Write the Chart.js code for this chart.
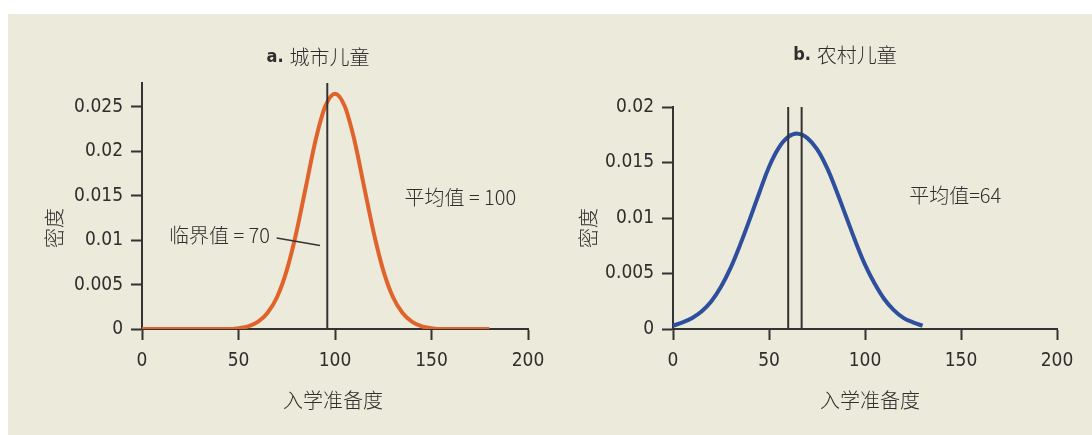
<!DOCTYPE html>
<html>
<head>
<meta charset="utf-8">
<script src="https://cdn.jsdelivr.net/npm/chart.js@4.4.0/dist/chart.umd.min.js"></script>
<style>
  html, body { margin: 0; padding: 0; background: #fff; }
  #wrap { position: relative; width: 1092px; height: 435px; overflow: hidden; }
  #panel { position: absolute; left: 8px; top: 14px; right: 0; bottom: 0; background: #eceada; }
  canvas { position: absolute; top: 0; }
  #chartA { left: 0; }
  #chartB { left: 546px; }
</style>
</head>
<body>
<div id="wrap">
  <div id="panel"></div>
  <canvas id="chartA" width="580" height="435"></canvas>
  <canvas id="chartB" width="546" height="435"></canvas>
</div>
<script>
// tick values and labels
const xTicks = [0, 50, 100, 150, 200];
const xLabels = ["0", "50", "100", "150", "200"];
const yTicksA = [0, 0.005, 0.01, 0.015, 0.02, 0.025];
const yLabelsA = ["0", "0.005", "0.01", "0.015", "0.02", "0.025"];
const yTicksB = [0, 0.005, 0.01, 0.015, 0.02];
const yLabelsB = ["0", "0.005", "0.01", "0.015", "0.02"];

// a. urban children, density
const urbanX = [0, 5, 10, 15, 20, 25, 30, 35, 40, 45, 50, 55, 60, 65, 70, 75, 80, 85, 90,
  95, 100, 105, 110, 115, 120, 125, 130, 135, 140, 145, 150, 155, 160, 165, 170, 175, 180];
const urbanDensity = [0, 0, 0, 0, 0, 0, 0, 0, 0, 0, 0.0001, 0.0003, 0.0008, 0.0018, 0.0036,
  0.0066, 0.0109, 0.0161, 0.0213, 0.0251, 0.0265, 0.0251, 0.0213, 0.0161, 0.0109, 0.0066,
  0.0036, 0.0018, 0.0008, 0.0003, 0.0001, 0, 0, 0, 0, 0, 0];
const urbanLines = [96];
const urbanYMax = 0.0277;

// b. rural children
const ruralX = [0, 5, 10, 15, 20, 25, 30, 35, 40, 45, 50, 55, 60, 65, 70, 75, 80, 85, 90,
  95, 100, 105, 110, 115, 120, 125, 130];
const ruralDensity = [0.0003, 0.0006, 0.0010, 0.0016, 0.0025, 0.0038, 0.0055, 0.0076, 0.0099,
  0.0123, 0.0146, 0.0163, 0.0173, 0.0176, 0.0172, 0.0162, 0.0146, 0.0125, 0.0102, 0.0079,
  0.0058, 0.0041, 0.0027, 0.0017, 0.0010, 0.0006, 0.0003];
const ruralLines = [60, 67];
const ruralYMax = 0.02;

const AXIS = "#333333";
const TEXT = "#2e2e2e";
const NUM_FONT = '"Liberation Sans Narrow", "DejaVu Sans Condensed", sans-serif';
const MIX_FONT = '"Liberation Sans Narrow", "Noto Sans CJK SC", sans-serif';

Chart.defaults.font.family = NUM_FONT;
Chart.defaults.font.size = 19;
Chart.defaults.color = TEXT;

// titles, axis titles and notes
const textPlugin = {
  id: "panelText",
  afterDraw(chart, args, opts) {
    const { ctx } = chart;
    const { x, y } = chart.scales;
    ctx.save();
    ctx.fillStyle = TEXT;
    ctx.textBaseline = "middle";

    // panel title: bold letter + chinese
    const t = opts.title;
    ctx.font = "bold 18px " + NUM_FONT;
    const w1 = ctx.measureText(t.tag).width;
    ctx.font = "300 20px " + MIX_FONT;
    const w2 = ctx.measureText(t.text).width;
    const left = t.x - (w1 + 6 + w2) / 2;
    ctx.textAlign = "left";
    ctx.font = "bold 18px " + NUM_FONT;
    ctx.fillText(t.tag, left, t.y);
    ctx.font = "300 20px " + MIX_FONT;
    ctx.fillText(t.text, left + w1 + 6, t.y);

    // axis titles
    ctx.textAlign = "center";
    ctx.fillText(opts.xTitle.text, opts.xTitle.x, opts.xTitle.y);
    ctx.save();
    ctx.translate(opts.yTitle.x, opts.yTitle.y);
    ctx.rotate(-Math.PI / 2);
    ctx.fillText(opts.yTitle.text, 0, 0);
    ctx.restore();

    // notes placed in data space
    opts.notes.forEach(n => {
      ctx.textAlign = n.align;
      ctx.fillText(n.text, x.getPixelForValue(n.x), y.getPixelForValue(n.y));
    });
    ctx.restore();
  }
};

const curve = (xs, ys, color, mode) => ({
  data: xs.map((v, i) => ({ x: v, y: ys[i] })),
  borderColor: color,
  borderWidth: 4,
  pointRadius: 0,
  tension: 0.4,
  cubicInterpolationMode: mode,
  order: 2
});

const vline = (v, top) => ({
  data: [{ x: v, y: 0 }, { x: v, y: top }],
  borderColor: AXIS,
  borderWidth: 2,
  pointRadius: 0,
  order: 0
});

const makeChart = (id, { datasets, yMax, yTicks, yLabels, padding, text }) =>
  new Chart(document.getElementById(id), {
    type: "line",
    data: { datasets },
    options: {
      responsive: false,
      animation: false,
      layout: { padding },
      plugins: {
        legend: { display: false },
        tooltip: { enabled: false },
        panelText: text
      },
      scales: {
        x: {
          type: "linear",
          min: 0,
          max: 200,
          afterFit: (s) => { s.height = 50; },
          afterBuildTicks: (s) => { s.ticks = xTicks.map(v => ({ value: v })); },
          ticks: { callback: (v, i) => xLabels[i], padding: 10, maxRotation: 0, autoSkip: false },
          grid: { drawOnChartArea: false, tickLength: 11, tickWidth: 2, tickColor: AXIS },
          border: { color: AXIS, width: 2 }
        },
        y: {
          min: 0,
          max: yMax,
          afterFit: (s) => { s.width = 80; },
          afterBuildTicks: (s) => { s.ticks = yTicks.map(v => ({ value: v })); },
          ticks: { callback: (v, i) => yLabels[i], padding: 8, autoSkip: false },
          grid: { drawOnChartArea: false, tickLength: 11, tickWidth: 2, tickColor: AXIS },
          border: { color: AXIS, width: 2 }
        }
      }
    },
    plugins: [textPlugin]
  });

makeChart("chartA", {
  datasets: [
    curve(urbanX, urbanDensity, "#e1632c", "monotone"),
    ...urbanLines.map(v => vline(v, urbanYMax)),
    {
      // leader line for the cutoff note
      data: [{ x: 69.8, y: 0.01025 }, { x: 92.2, y: 0.0094 }],
      borderColor: AXIS, borderWidth: 1.5, pointRadius: 0, order: 0
    }
  ],
  yMax: urbanYMax,
  yTicks: yTicksA,
  yLabels: yLabelsA,
  padding: { left: 62, right: 52, top: 83, bottom: 56 },
  text: {
    title: { tag: "a.", text: "城市儿童", x: 318, y: 57 },
    xTitle: { text: "入学准备度", x: 333, y: 400 },
    yTitle: { text: "密度", x: 54, y: 228 },
    notes: [
      { text: "临界值 = 70", x: 66.3, y: 0.0105, align: "right" },
      { text: "平均值 = 100", x: 136, y: 0.0148, align: "left" }
    ]
  }
});

makeChart("chartB", {
  datasets: [
    curve(ruralX, ruralDensity, "#2d4f9e", "default"),
    ...ruralLines.map(v => vline(v, ruralYMax))
  ],
  yMax: ruralYMax,
  yTicks: yTicksB,
  yLabels: yLabelsB,
  padding: { left: 47, right: 35, top: 107, bottom: 56 },
  text: {
    title: { tag: "b.", text: "农村儿童", x: 299, y: 55 },
    xTitle: { text: "入学准备度", x: 324, y: 400 },
    yTitle: { text: "密度", x: 42, y: 228 },
    notes: [
      { text: "平均值=64", x: 123, y: 0.012, align: "left" }
    ]
  }
});
</script>
</body>
</html>
